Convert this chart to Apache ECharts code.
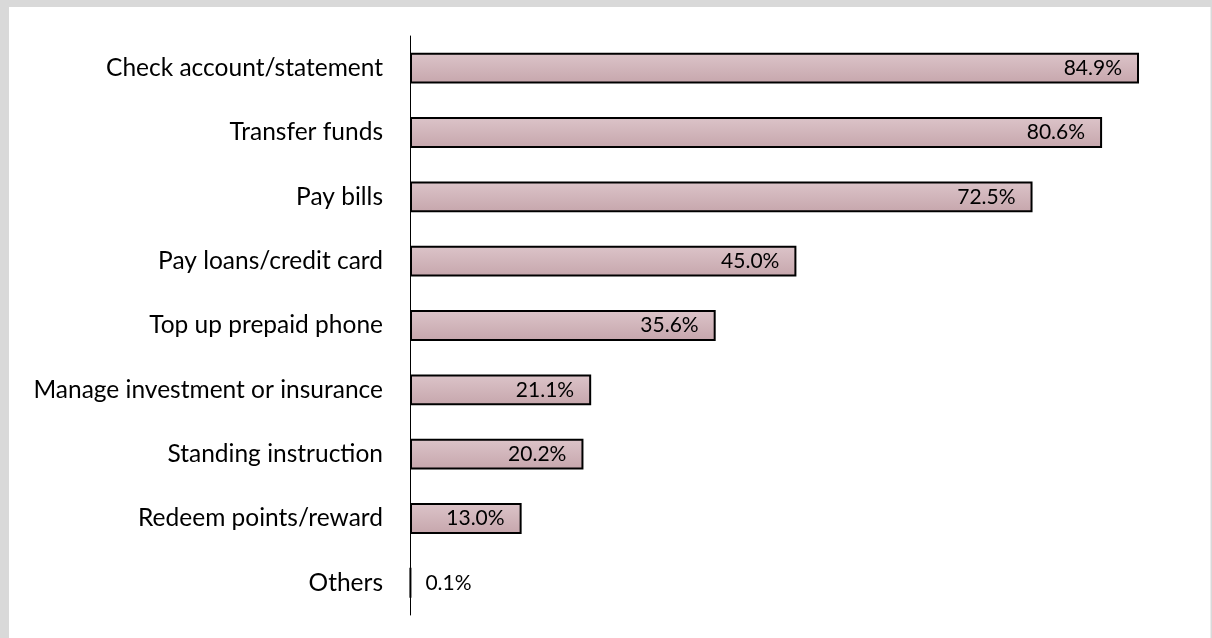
<!DOCTYPE html>
<html>
<head>
<meta charset="utf-8">
<script src="https://cdn.jsdelivr.net/npm/echarts@6/dist/echarts.min.js"></script>
<style>
  html, body { margin: 0; padding: 0; background: #fff; }
  #chart { width: 1212px; height: 638px; }
</style>
</head>
<body>
<div id="chart"></div>
<script>
// Online banking activities, share of respondents (%)
const categories = [
  'Check account/statement',
  'Transfer funds',
  'Pay bills',
  'Pay loans/credit card',
  'Top up prepaid phone',
  'Manage investment or insurance',
  'Standing instruction',
  'Redeem points/reward',
  'Others'
];
const shares = [84.9, 80.6, 72.5, 45.0, 35.6, 21.1, 20.2, 13.0, 0.1];

const FONT = 'Lato';
const chart = echarts.init(document.getElementById('chart'), null, { renderer: 'canvas' });

const barData = shares.map(function (v) {
  const item = { value: v };
  if (v < 5) {
    // too thin to hold its label, so the value sits beside it
    item.label = { position: 'right', distance: 14 };
  }
  return item;
});

chart.setOption({
  backgroundColor: '#ffffff',
  animation: false,
  graphic: [
    // grey frame around the plot panel
    { type: 'rect', left: 0, top: 0, shape: { width: 1212, height: 7 }, style: { fill: '#d9d9d9' } },
    { type: 'rect', left: 0, top: 0, shape: { width: 9, height: 638 }, style: { fill: '#d9d9d9' } },
    { type: 'rect', right: 0, top: 0, shape: { width: 1.5, height: 638 }, style: { fill: '#d9d9d9' } }
  ],
  grid: { left: 410, top: 36, width: 772.8, height: 579, containLabel: false },
  xAxis: {
    type: 'value',
    min: 0,
    max: 90,
    show: false,
    splitLine: { show: false }
  },
  yAxis: {
    type: 'category',
    data: categories,
    inverse: true,
    axisLine: { show: true, lineStyle: { color: '#000', width: 1 } },
    axisTick: { show: false },
    axisLabel: { color: '#000', fontFamily: FONT, fontSize: 24.5, margin: 27 }
  },
  series: [{
    type: 'bar',
    data: barData,
    barWidth: '48%',
    itemStyle: {
      color: {
        type: 'linear', x: 0, y: 0, x2: 0, y2: 1,
        colorStops: [
          { offset: 0, color: '#dcc4c9' },
          { offset: 1, color: '#c6a6ac' }
        ]
      },
      borderColor: '#000',
      borderWidth: 2
    },
    label: {
      show: true,
      position: 'insideRight',
      distance: 17,
      color: '#000',
      fontFamily: FONT,
      fontSize: 21,
      formatter: function (p) { return p.value.toFixed(1) + '%'; }
    }
  }]
});
</script>
</body>
</html>
